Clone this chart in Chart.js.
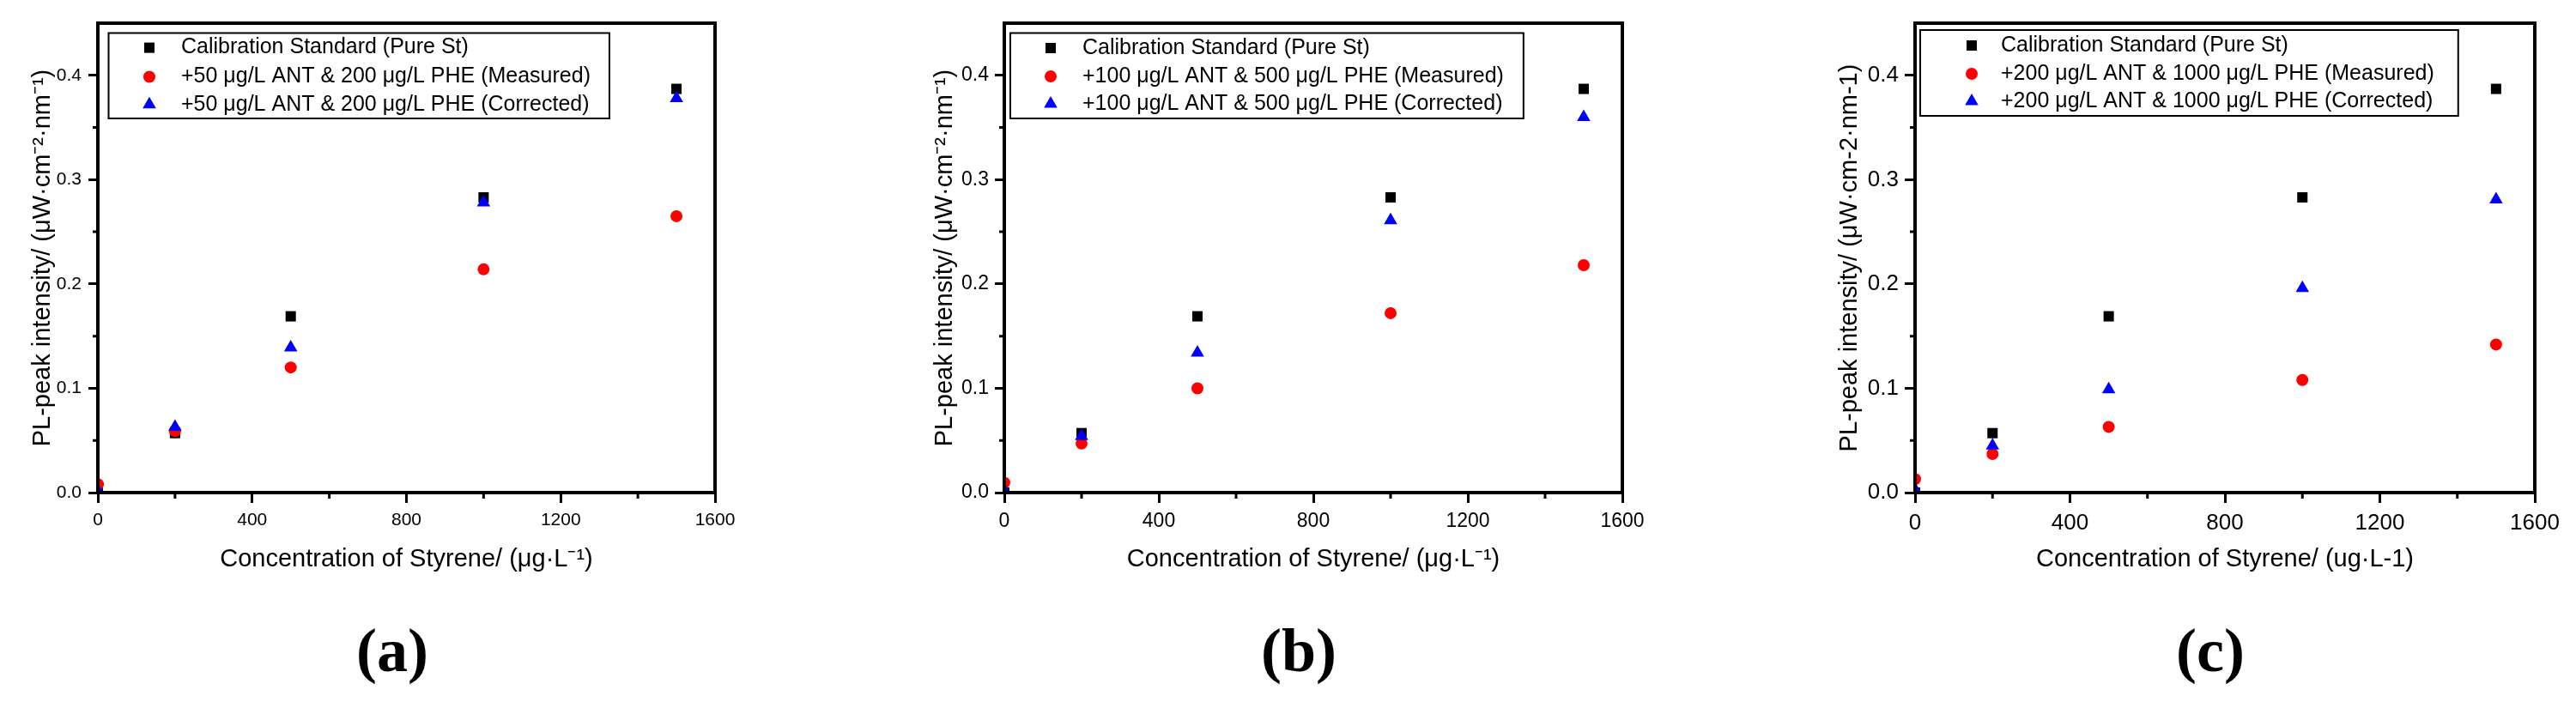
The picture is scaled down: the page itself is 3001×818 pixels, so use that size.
<!DOCTYPE html>
<html>
<head>
<meta charset="utf-8">
<script src="https://cdn.jsdelivr.net/npm/chart.js@4.4.1/dist/chart.umd.min.js"></script>
<style>
  body { margin: 0; background: #fff; width: 3001px; height: 818px; position: relative; overflow: hidden; }
  canvas { position: absolute; top: 0; }
  .tag { position: absolute; top: 717px; width: 200px; text-align: center; line-height: 80px;
         font: bold 72px 'Liberation Serif', 'Times New Roman', serif; color: #000; }
</style>
</head>
<body>
<canvas id="chartA" width="1000" height="818" style="left:0px"></canvas>
<canvas id="chartB" width="1000" height="818" style="left:1040px"></canvas>
<canvas id="chartC" width="911" height="818" style="left:2090px"></canvas>
<div class="tag" style="left:357px">(a)</div>
<div class="tag" style="left:1413px">(b)</div>
<div class="tag" style="left:2475px">(c)</div>
<script>
const FONT = "'Liberation Sans', Arial, sans-serif";

// data
const concentration = [0, 200, 500, 1000, 1500];
const calibration = [0, 0.057, 0.169, 0.283, 0.387];
const measuredA = [0.008, 0.059, 0.120, 0.214, 0.265];
const correctedA = [0.002, 0.063, 0.139, 0.278, 0.378];
const measuredB = [0.0095, 0.047, 0.100, 0.172, 0.218];
const correctedB = [0.002, 0.054, 0.134, 0.261, 0.360];
const measuredC = [0.013, 0.037, 0.063, 0.108, 0.142];
const correctedC = [0.003, 0.045, 0.099, 0.196, 0.281];

const xTicks = [0, 400, 800, 1200, 1600];
const xMinor = [200, 600, 1000, 1400];
const yTicks = [0, 0.1, 0.2, 0.3, 0.4];
const yMinor = [0.05, 0.15, 0.25, 0.35];

const legendA = ['Calibration Standard (Pure St)',
                 '+50 μg/L ANT & 200 μg/L PHE (Measured)',
                 '+50 μg/L ANT & 200 μg/L PHE (Corrected)'];
const legendB = ['Calibration Standard (Pure St)',
                 '+100 μg/L ANT & 500 μg/L PHE (Measured)',
                 '+100 μg/L ANT & 500 μg/L PHE (Corrected)'];
const legendC = ['Calibration Standard (Pure St)',
                 '+200 μg/L ANT & 1000 μg/L PHE (Measured)',
                 '+200 μg/L ANT & 1000 μg/L PHE (Corrected)'];

const xTitleAB = 'Concentration of Styrene/ (μg·L⁻¹)';
const xTitleC = 'Concentration of Styrene/ (ug·L-1)';
const yTitleAB = 'PL-peak intensity/ (μW·cm⁻²·nm⁻¹)';
const yTitleC = 'PL-peak intensity/ (μW·cm-2·nm-1)';

// box around plot + short minor ticks
const framePlugin = {
    id: 'frame',
    afterDatasetsDraw(chart) {
        const { ctx, chartArea: a, scales: { x, y } } = chart;
        ctx.save();
        ctx.strokeStyle = '#000';
        ctx.lineWidth = 3;
        ctx.beginPath();
        yMinor.forEach(v => {
            const py = y.getPixelForValue(v);
            ctx.moveTo(a.left - 6, py);
            ctx.lineTo(a.left, py);
        });
        xMinor.forEach(v => {
            const px = x.getPixelForValue(v);
            ctx.moveTo(px, a.bottom);
            ctx.lineTo(px, a.bottom + 7);
        });
        ctx.stroke();
        ctx.lineWidth = 4;
        ctx.strokeRect(a.left, a.top, a.right - a.left, a.bottom - a.top);
        ctx.restore();
    }
};

// legend drawn inside a thin box, like the original
const boxLegend = {
    id: 'boxLegend',
    afterDraw(chart, args, o) {
        const { ctx, chartArea: a } = chart;
        const sets = chart.data.datasets;
        ctx.save();
        ctx.font = o.size + 'px ' + FONT;
        ctx.textBaseline = 'middle';
        ctx.textAlign = 'left';
        const textX = a.left + o.textX;
        let maxW = 0;
        sets.forEach(d => { maxW = Math.max(maxW, ctx.measureText(d.label).width); });
        const left = a.left + o.left;
        const top = a.top + o.top;
        ctx.lineWidth = 2;
        ctx.strokeStyle = '#000';
        ctx.strokeRect(left, top, textX + maxW + o.gap - left, o.height);
        sets.forEach((d, i) => {
            const cy = a.top + o.rows[i];
            ctx.fillStyle = d.backgroundColor;
            Chart.helpers.drawPoint(ctx, { pointStyle: d.pointStyle, radius: d.pointRadius, rotation: 0, borderWidth: 0 },
                a.left + o.markerX, cy);
            ctx.fillStyle = '#000';
            ctx.fillText(d.label, textX, cy);
        });
        ctx.restore();
    }
};

function points(ys) {
    return concentration.map((x, i) => ({ x: x, y: ys[i] }));
}

function makeChart(id, p) {
    const el = document.getElementById(id);
    const common = { pointBorderWidth: 0, borderWidth: 0, clip: 0 };
    return new Chart(el, {
        type: 'scatter',
        data: {
            datasets: [
                Object.assign({ label: p.labels[0], data: points(calibration), pointStyle: 'rect', pointRadius: 8.5,
                    pointHoverRadius: 8.5, backgroundColor: '#000000', borderColor: '#000000', order: 3 }, common),
                Object.assign({ label: p.labels[1], data: points(p.measured), pointStyle: 'circle', pointRadius: 7,
                    pointHoverRadius: 7, backgroundColor: '#ff0000', borderColor: '#ff0000', order: 2 }, common),
                Object.assign({ label: p.labels[2], data: points(p.corrected), pointStyle: 'triangle', pointRadius: 9,
                    pointHoverRadius: 9, backgroundColor: '#0000ff', borderColor: '#0000ff', order: 1 }, common)
            ]
        },
        options: {
            responsive: false,
            animation: false,
            devicePixelRatio: 1,
            layout: { padding: { left: 0, top: 27, right: p.padR, bottom: 818 - 574 - p.xH } },
            plugins: {
                legend: { display: false },
                tooltip: { enabled: false },
                boxLegend: p.legend
            },
            scales: {
                x: {
                    type: 'linear', min: 0, max: 1600,
                    afterBuildTicks: s => { s.ticks = xTicks.map(v => ({ value: v })); },
                    afterFit: s => { s.height = p.xH; },
                    ticks: { font: { family: FONT, size: p.tick }, color: '#000', padding: p.xPad,
                             maxRotation: 0, autoSkip: false, callback: v => String(v) },
                    grid: { display: true, drawOnChartArea: false, drawTicks: true, tickLength: 12,
                            tickWidth: 3, tickColor: '#000' },
                    border: { display: true, width: 4, color: '#000' },
                    title: { display: true, text: p.xTitle, font: { family: FONT, size: 29 }, color: '#000', padding: 0 }
                },
                y: {
                    type: 'linear', position: 'left', min: 0, max: 0.45,
                    afterBuildTicks: s => { s.ticks = yTicks.map(v => ({ value: v })); },
                    afterFit: s => { s.width = p.areaLeft; },
                    ticks: { font: { family: FONT, size: p.tick }, color: '#000', padding: p.yPad,
                             autoSkip: false, callback: v => v.toFixed(1) },
                    grid: { display: true, drawOnChartArea: false, drawTicks: true, tickLength: p.yTick,
                            tickWidth: 3, tickColor: '#000' },
                    border: { display: true, width: 4, color: '#000' },
                    title: { display: true, text: p.yTitle, font: { family: FONT, size: 29 }, color: '#000',
                             padding: { top: p.yTitleX - 17.4, bottom: 0 } }
                }
            }
        },
        plugins: [framePlugin, boxLegend]
    });
}

makeChart('chartA', {
    labels: legendA, measured: measuredA, corrected: correctedA,
    xTitle: xTitleAB, yTitle: yTitleAB,
    areaLeft: 114, padR: 167, xH: 95, tick: 21, xPad: 8, yPad: 8, yTick: 11, yTitleX: 50,
    legend: { size: 25, left: 12.5, top: 11.5, height: 99.5, markerX: 60, textX: 97, gap: 22, rows: [28.6, 62.5, 94.8] }
});
makeChart('chartB', {
    labels: legendB, measured: measuredB, corrected: correctedB,
    xTitle: xTitleAB, yTitle: yTitleAB,
    areaLeft: 130, padR: 150, xH: 95, tick: 23, xPad: 8, yPad: 7, yTick: 11, yTitleX: 61,
    legend: { size: 25, left: 7, top: 11.5, height: 99.5, markerX: 54, textX: 91, gap: 23, rows: [29, 62, 94] }
});
makeChart('chartC', {
    labels: legendC, measured: measuredC, corrected: correctedC,
    xTitle: xTitleC, yTitle: yTitleC,
    areaLeft: 141, padR: 48, xH: 95, tick: 26, xPad: 8, yPad: 7, yTick: 12, yTitleX: 65,
    legend: { size: 25, left: 6, top: 8, height: 100, markerX: 66, textX: 100, gap: 28, rows: [26, 59, 91] }
});
</script>
</body>
</html>
